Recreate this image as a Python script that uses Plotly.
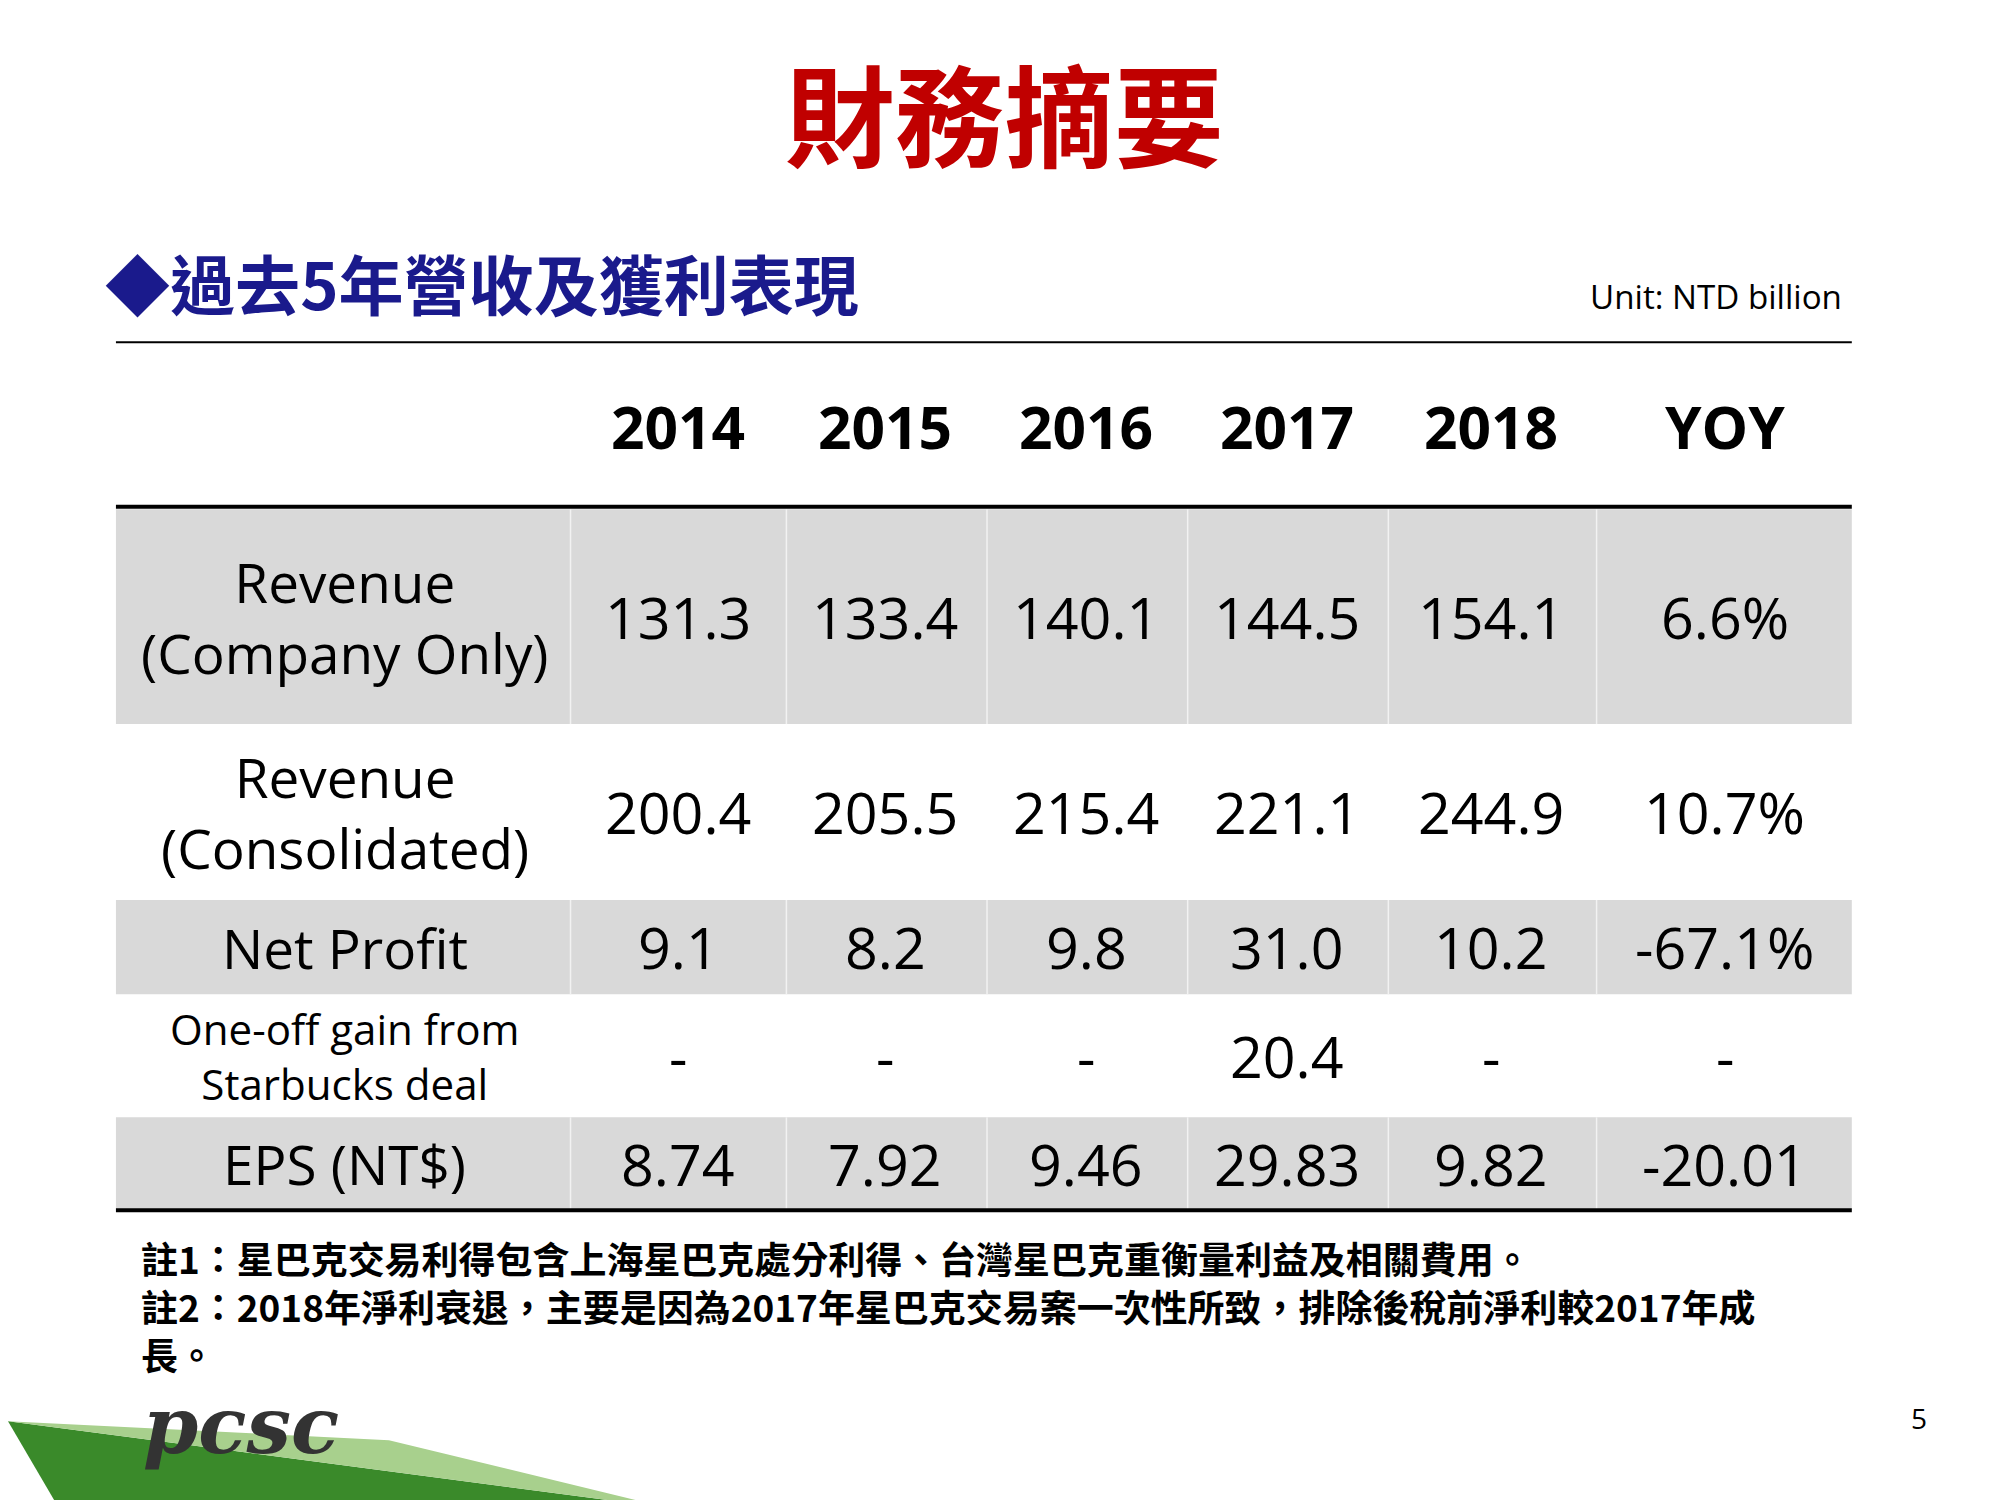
import plotly.graph_objects as go

years = ["2014", "2015", "2016", "2017", "2018", "YOY"]
row_labels = ["Revenue<br>(Company Only)", "Revenue<br>(Consolidated)", "Net Profit",
              "One-off gain from<br>Starbucks deal", "EPS (NT$)"]
rev_company = ["131.3", "133.4", "140.1", "144.5", "154.1", "6.6%"]
rev_consol = ["200.4", "205.5", "215.4", "221.1", "244.9", "10.7%"]
net_profit = ["9.1", "8.2", "9.8", "31.0", "10.2", "-67.1%"]
one_off = ["-", "-", "-", "20.4", "-", "-"]
eps = ["8.74", "7.92", "9.46", "29.83", "9.82", "-20.01"]
rows = [rev_company, rev_consol, net_profit, one_off, eps]
notes = ["註1：星巴克交易利得包含上海星巴克處分利得、台灣星巴克重衡量利益及相關費用。",
         "註2：2018年淨利衰退，主要是因為2017年星巴克交易案一次性所致，排除後稅前淨利較2017年成",
         "長。"]

W, H = 1575, 1194
k = 1500 / 1176
FONT = "Open Sans, Noto Sans CJK TC"
CJK = "Noto Sans CJK TC"

col_x = [528, 691, 849, 1007, 1168, 1352]
col_edges = [443, 613, 771, 929, 1087, 1251]
row_edges = [399, 570, 710, 785, 883, 957]
gray_rows = [0, 2, 4]
label_x = 265

shapes, ann = [], []
for i in range(5):
    y0, y1 = row_edges[i], row_edges[i + 1]
    if i in gray_rows:
        shapes.append(dict(type="rect", x0=85, x1=1452, y0=y0, y1=y1,
                           fillcolor="#D9D9D9", line_width=0, layer="below"))
        for xe in col_edges:
            shapes.append(dict(type="line", x0=xe, x1=xe, y0=y0, y1=y1,
                               line=dict(color="#F2F2F2", width=1.5)))
    ym = (y0 + y1) / 2
    small = i == 3
    ann.append(dict(x=label_x, y=ym, text=row_labels[i], showarrow=False,
                    font=dict(family=FONT, size=(33 if small else 43) * k, color="black")))
    for j, v in enumerate(rows[i]):
        ann.append(dict(x=col_x[j], y=ym, text=v, showarrow=False,
                        font=dict(family=FONT, size=45 * k, color="black")))

for j, yname in enumerate(years):
    ann.append(dict(x=col_x[j], y=333, text="<b>%s</b>" % yname, showarrow=False,
                    font=dict(family=FONT, size=46 * k, color="black")))

shapes += [
    dict(type="line", x0=85, x1=1452, y0=266, y1=266, line=dict(color="black", width=2)),
    dict(type="line", x0=85, x1=1452, y0=397, y1=397, line=dict(color="black", width=4)),
    dict(type="line", x0=85, x1=1452, y0=957, y1=957, line=dict(color="black", width=4)),
    dict(type="path", path="M 0 1125 L 520 1194 L 40 1194 Z", fillcolor="#3A8A2A", line_width=0),
    dict(type="path", path="M 0 1125 L 300 1140 L 520 1194 Z", fillcolor="#A8D08D", line_width=0),
]

ann += [
    dict(x=785, y=82, text="<b>財務摘要</b>", showarrow=False,
         font=dict(family=CJK, size=86 * k, color="#C00000")),
    dict(x=75, y=218, text="<b>◆過去5年營收及獲利表現</b>", showarrow=False, xanchor="left",
         font=dict(family=CJK, size=51 * k, color="#1A1A8C")),
    dict(x=1446, y=230, text="Unit: NTD billion", showarrow=False, xanchor="right",
         font=dict(family=FONT, size=26 * k, color="black")),
    dict(x=105, y=1128, text="<b><i>pcsc</i></b>", showarrow=False, xanchor="left",
         font=dict(family="DejaVu Serif", size=62 * k, color="#333333")),
    dict(x=1505, y=1122, text="5", showarrow=False,
         font=dict(family=FONT, size=22 * k, color="black")),
    dict(x=103, y=972, text="<br>".join("<b>%s</b>" % t for t in notes), showarrow=False,
         xanchor="left", yanchor="top", align="left",
         font=dict(family=CJK, size=29 * k, color="black")),
]

fig = go.Figure()
fig.update_layout(width=2000, height=1500, margin=dict(l=0, r=0, t=0, b=0),
                  plot_bgcolor="white", paper_bgcolor="white",
                  xaxis=dict(range=[0, W], visible=False, fixedrange=True),
                  yaxis=dict(range=[H, 0], visible=False, fixedrange=True),
                  shapes=shapes, annotations=ann, showlegend=False)
fig.write_html("out.html")
